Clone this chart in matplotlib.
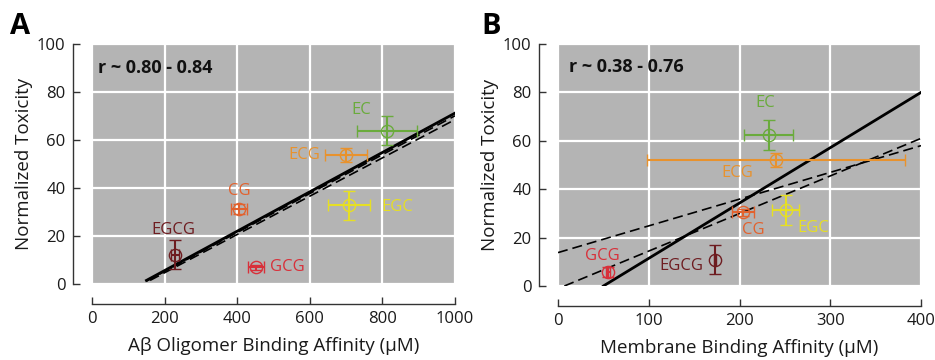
import matplotlib
matplotlib.use("Agg")
import matplotlib.pyplot as plt

plt.rcParams['font.family'] = ['Open Sans', 'DejaVu Sans']

compounds = ['EC', 'ECG', 'CG', 'EGC', 'EGCG', 'GCG']
colors = ['#6aab3c', '#e8922d', '#e2622e', '#e6df24', '#6e1c20', '#d8303a']

# Panel A: Abeta oligomer binding affinity
a_x = [812, 699, 405, 709, 229, 452]
a_xerr = [83, 58, 21, 58, 12, 23]
a_y = [63.9, 53.8, 31.3, 32.8, 12.2, 6.9]
a_yerr = [6, 3, 2, 6, 6, 1]
a_lab_x = [743, 628, 405, 798, 225, 489]
a_lab_y = [72.6, 53.8, 38.9, 32.0, 22.6, 6.9]
a_lab_ha = ['center', 'right', 'center', 'left', 'center', 'left']
a_fit_x0 = [150, 150, 160]
a_fit_x1 = [1000, 1000, 1000]
a_fit_y0 = [1.5, 1.2, 1.5]
a_fit_y1 = [71.2, 70.1, 68.5]
a_fit_style = ['-', '--', '--']

# Panel B: membrane binding affinity
b_x = [232, 240, 204, 251, 173, 55]
b_xerr = [27, 142, 12, 15, 1, 2]
b_y = [62.4, 52.0, 30.4, 31.4, 10.9, 5.8]
b_yerr = [6, 3, 1.5, 6, 6, 2]
b_lab_x = [228.6, 197.4, 215, 281.5, 136.5, 48.4]
b_lab_y = [75.8, 46.8, 23.3, 24.0, 8.1, 12.6]
b_lab_ha = ['center'] * 6
b_fit_x0 = [50, 0, 7]
b_fit_x1 = [400, 400, 400]
b_fit_y0 = [0, 13.8, 0]
b_fit_y1 = [80, 58, 61]
b_fit_style = ['-', '--', '--']

xticks_a = [0, 200, 400, 600, 800, 1000]
xticks_b = [0, 100, 200, 300, 400]
yticks = [0, 20, 40, 60, 80, 100]

fig = plt.figure(figsize=(9.35, 3.6), dpi=100)
axA = fig.add_axes([92/935, 1-284/360, 363/935, 240/360])
axB = fig.add_axes([558/935, 1-286/360, 363/935, 242/360])


def draw(ax, xs, xerr, ys, yerr, lx, ly, lha, fx0, fx1, fy0, fy1, fst,
         xlim, xticks, xlabel, rtext, rpos):
    ax.set_facecolor('#b4b4b4')
    ax.set_xlim(*xlim)
    ax.set_ylim(0, 100)
    ax.set_xticks(xticks)
    ax.set_yticks(yticks)
    ax.grid(True, color='white', linewidth=1.6)
    ax.set_axisbelow(True)
    for sp in ['top', 'right']:
        ax.spines[sp].set_visible(False)
    ax.spines['left'].set_position(('outward', 14))
    ax.spines['bottom'].set_position(('outward', 14.5))
    ax.spines['left'].set_bounds(0, 100)
    ax.spines['bottom'].set_bounds(*xlim)
    for sp in ['left', 'bottom']:
        ax.spines[sp].set_color('#333333')
        ax.spines[sp].set_linewidth(1.0)
    ax.tick_params(direction='in', length=5, width=1.0, colors='#333333',
                   labelsize=12, labelcolor='#1a1a1a', pad=5)
    for i in range(len(fx0)):
        ax.plot([fx0[i], fx1[i]], [fy0[i], fy1[i]], color='black',
                linestyle=fst[i], linewidth=2.0 if fst[i] == '-' else 1.2,
                dashes=(6, 3) if fst[i] == '--' else (None, None),
                zorder=3)
    for i in range(len(xs)):
        ax.errorbar(xs[i], ys[i], xerr=xerr[i], yerr=yerr[i], fmt='o',
                    mfc='none', mec=colors[i], mew=1.0, ms=8.8,
                    ecolor=colors[i], elinewidth=1.5, capsize=4.0,
                    capthick=1.5, zorder=4)
        ax.text(lx[i], ly[i], compounds[i], color=colors[i], fontsize=12,
                ha=lha[i], va='center', zorder=5)
    ax.text(rpos[0], rpos[1], rtext, transform=ax.transAxes, fontsize=13,
            fontweight='bold', ha='left', va='center', color='#111111')
    ax.set_xlabel(xlabel, fontsize=13.5, labelpad=7, color='#1a1a1a')
    ax.set_ylabel('Normalized Toxicity', fontsize=13.5, labelpad=3,
                  color='#1a1a1a')


draw(axA, a_x, a_xerr, a_y, a_yerr, a_lab_x, a_lab_y, a_lab_ha,
     a_fit_x0, a_fit_x1, a_fit_y0, a_fit_y1, a_fit_style,
     (0, 1000), xticks_a, 'A\u03b2 Oligomer Binding Affinity (\u03bcM)',
     'r ~ 0.80 - 0.84', (0.017, 0.9))
draw(axB, b_x, b_xerr, b_y, b_yerr, b_lab_x, b_lab_y, b_lab_ha,
     b_fit_x0, b_fit_x1, b_fit_y0, b_fit_y1, b_fit_style,
     (0, 400), xticks_b, 'Membrane Binding Affinity (\u03bcM)',
     'r ~ 0.38 - 0.76', (0.03, 0.905))

fig.text(10/935, 1-26/360, 'A', fontsize=21, fontweight='bold',
         ha='left', va='center')
fig.text(481/935, 1-26/360, 'B', fontsize=21, fontweight='bold',
         ha='left', va='center')

fig.savefig('out.png', dpi=100)
